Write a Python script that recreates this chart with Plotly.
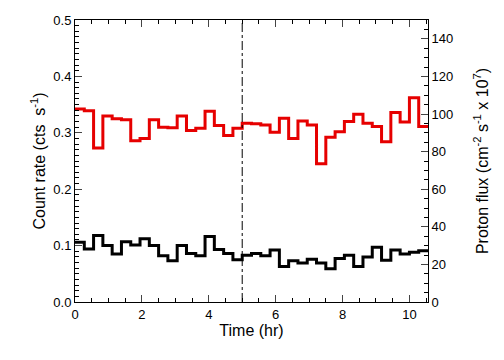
import plotly.graph_objects as go

# time bins: 1000 s each, expressed in hours
bin_width_hr = 1000 / 3600
n_bins = 38
edges = [i * bin_width_hr for i in range(n_bins + 1)]

red_rate = [0.342, 0.339, 0.273, 0.330, 0.325, 0.323, 0.286, 0.290, 0.323, 0.310,
            0.309, 0.330, 0.304, 0.308, 0.338, 0.313, 0.295, 0.308, 0.317, 0.316,
            0.314, 0.301, 0.326, 0.290, 0.321, 0.314, 0.245, 0.292, 0.302, 0.320,
            0.333, 0.317, 0.311, 0.284, 0.336, 0.319, 0.362, 0.311]
black_rate = [0.106, 0.094, 0.118, 0.100, 0.085, 0.107, 0.101, 0.112, 0.100, 0.082,
              0.073, 0.100, 0.086, 0.082, 0.116, 0.093, 0.086, 0.075, 0.083, 0.086,
              0.082, 0.092, 0.063, 0.073, 0.069, 0.076, 0.069, 0.059, 0.077, 0.083,
              0.063, 0.080, 0.097, 0.074, 0.092, 0.085, 0.088, 0.091]
marker_time = 5.0

x_ticks = [0, 2, 4, 6, 8, 10]
y_ticks = [0.0, 0.1, 0.2, 0.3, 0.4, 0.5]
y_tick_text = ["0.0", "0.1", "0.2", "0.3", "0.4", "0.5"]
y2_ticks = [0, 20, 40, 60, 80, 100, 120, 140]

font = dict(family="Liberation Sans, Arial, sans-serif", size=13, color="black")

fig = go.Figure()
for vals, col in [(red_rate, "#e60000"), (black_rate, "black")]:
    fig.add_trace(go.Scatter(
        x=edges, y=vals + [vals[-1]], mode="lines", line_shape="hv",
        line=dict(color=col, width=3), showlegend=False, hoverinfo="skip"))
# invisible trace for right axis
fig.add_trace(go.Scatter(x=[0], y=[0], yaxis="y2", mode="markers",
                         marker=dict(opacity=0), showlegend=False, hoverinfo="skip"))

fig.add_shape(type="line", x0=marker_time, x1=marker_time, y0=0, y1=1,
              xref="x", yref="paper", line=dict(color="black", width=1, dash="dashdot"))

# page body has an 8px margin, so the figure is sized to fill the rest of the window
fig.update_layout(
    width=496, height=352,
    margin=dict(l=67, r=76, t=12, b=58, autoexpand=False),
    paper_bgcolor="white", plot_bgcolor="white",
    font=font,
    xaxis=dict(range=[0, edges[-1]], tickvals=x_ticks, ticks="inside", ticklen=7,
               showline=True, linecolor="black", linewidth=1, mirror="ticks",
               showgrid=False, zeroline=False, automargin=False,
               minor=dict(dtick=0.5, ticks="inside", ticklen=4, tickcolor="black"),
               title=dict(text="Time (hr)", standoff=4), tickfont=font),
    yaxis=dict(range=[0, 0.5], tickvals=y_ticks, ticktext=y_tick_text, ticks="inside",
               ticklen=7, showline=True, linecolor="black", linewidth=1,
               showgrid=False, zeroline=False, automargin=False,
               minor=dict(dtick=0.01, ticks="inside", ticklen=4, tickcolor="black"),
               title=dict(text="Count rate (cts  s<sup>-1</sup>)", standoff=3), tickfont=font),
    yaxis2=dict(range=[0, 150], tickvals=y2_ticks, ticks="inside", ticklen=7,
                overlaying="y", side="right", showline=True, linecolor="black",
                linewidth=1, showgrid=False, zeroline=False, automargin=False,
                minor=dict(dtick=5, ticks="inside", ticklen=4, tickcolor="black"),
                title=dict(text="Proton flux (cm<sup>-2</sup> s<sup>-1</sup> x 10<sup>7</sup>)",
                           standoff=24), tickfont=font),
)

fig.write_html("out.html")
